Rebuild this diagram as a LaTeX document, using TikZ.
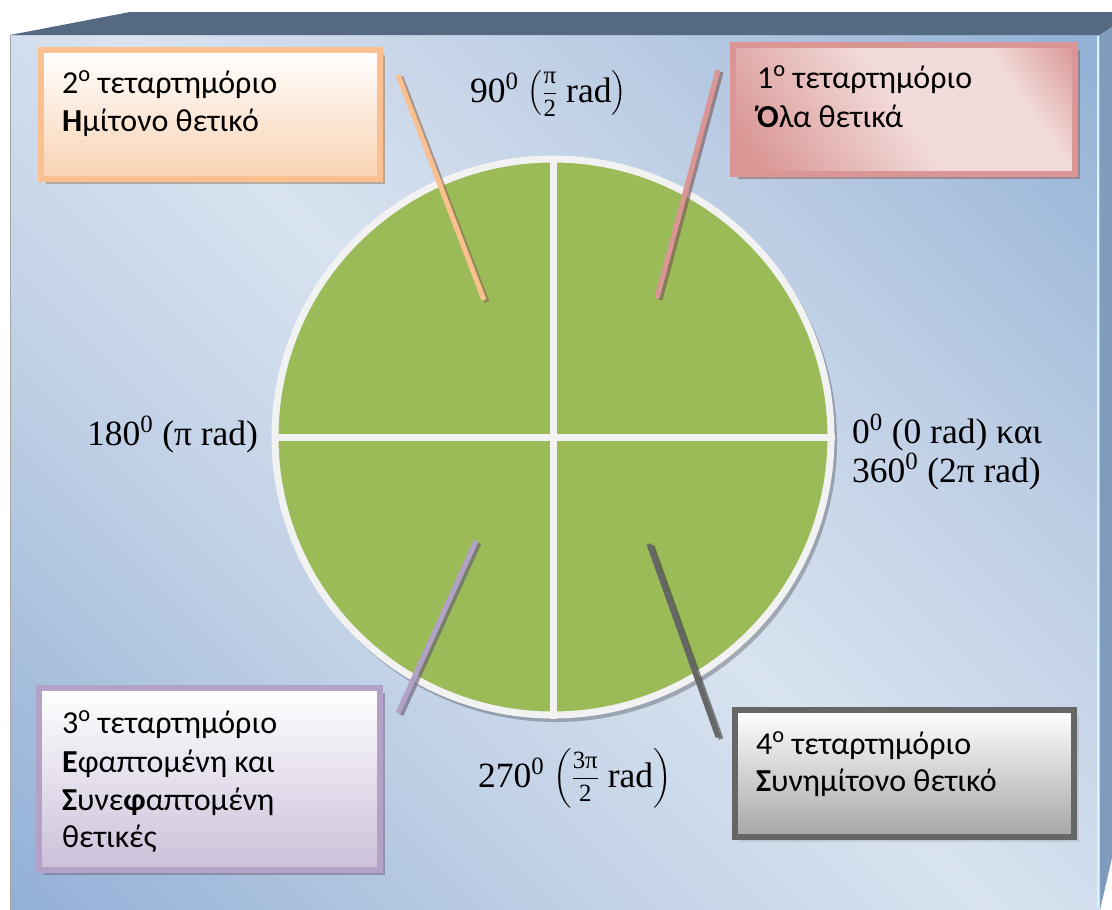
\documentclass[tikz,border=0pt]{standalone}
\usepackage{fix-cm}
\usepackage{amsmath}
\usepackage{fontspec}
\setmainfont{Carlito}
\newfontfamily\labfont{Liberation Serif}
\usetikzlibrary{shadows}
\definecolor{bgdark}{HTML}{93B1D6}
\definecolor{bgmid}{HTML}{BCCDE4}
\definecolor{bglight}{HTML}{D9E3F0}
\definecolor{topface}{HTML}{566982}
\definecolor{sideface}{HTML}{7F9CBD}
\definecolor{quad}{HTML}{9BBB59}
\definecolor{sep}{HTML}{F2F2F2}
\definecolor{orangeB}{HTML}{FAC090}
\definecolor{orangeF}{HTML}{F9D2B2}
\definecolor{pinkB}{HTML}{D99694}
\definecolor{pinkF}{HTML}{F2DCDB}
\definecolor{purpleB}{HTML}{B3A2C7}
\definecolor{purpleF}{HTML}{CCC0DA}
\definecolor{grayB}{HTML}{666666}
\definecolor{grayF}{HTML}{A6A6A6}
\definecolor{grayS}{HTML}{B4B8C0}
\pgfdeclarehorizontalshading{bgshade}{100bp}{color(0bp)=(bgdark); color(15bp)=(bgdark); color(33bp)=(bgmid); color(50bp)=(bglight); color(67bp)=(bgmid); color(85bp)=(bgdark); color(100bp)=(bgdark)}
\pgfdeclarehorizontalshading{pinkshade}{100bp}{color(0bp)=(pinkB); color(20bp)=(pinkB); color(50bp)=(pinkF); color(70bp)=(pinkF); color(85bp)=(pinkB); color(100bp)=(pinkB)}
\newcommand{\myfrac}[2]{\frac{\text{#1}\rule[-8pt]{0pt}{8pt}}{\rule{0pt}{22pt}\text{#2}}}
\begin{document}
\begin{tikzpicture}[x=1pt,y=-1pt,
  boxbase/.style={rectangle, line width=6pt, inner sep=0pt,
    drop shadow={shadow xshift=5pt, shadow yshift=-5pt, opacity=.55, fill=#1}},
  boxtext/.style={anchor=base west, inner sep=0pt, font=\fontsize{32}{38}\selectfont},
  lab/.style={anchor=base west, inner sep=0pt, font=\labfont\fontsize{35.5}{40}\selectfont},
  conn/.style={line width=5pt, draw=#1},
  connshadow/.style={line width=5pt, draw=#1!55!black, opacity=.6, transform canvas={shift={(3pt,-2pt)}}},
  sepline/.style={draw=sep, line width=7pt}
]
\useasboundingbox (0,0) rectangle (1112,910);
\fill[white] (0,0) rectangle (1112,910);
% 3D frame
\shade[shading=bgshade, shading angle=45] (10,35) rectangle (1100,910);
\draw[gray!70, line width=1pt] (10,35) -- (10,910);
\fill[topface] (10,35) -- (130,12) -- (1112,12) -- (1112,27) -- (1100,35) -- cycle;
\fill[sideface] (1100,35) -- (1112,27) -- (1112,858) -- (1100,910) -- cycle;
\draw[white!85!cyan, line width=1.5pt] (1098,36) -- (1098,908);
% circle
\fill[black, opacity=.25] (556,441) circle (281);
\node[circle, minimum size=556pt, inner sep=0pt, fill=quad, draw=sep, line width=7pt] (disc) at (553,437) {};
\draw[sepline] (disc.north) -- (disc.south);
\draw[sepline] (disc.west) -- (disc.east);
% connector ends
\coordinate (c2a) at (398,75);  \coordinate (c2b) at (484,300);
\coordinate (c1a) at (718,70);  \coordinate (c1b) at (657,298);
\coordinate (c3a) at (476,541); \coordinate (c3b) at (398,713);
\coordinate (c4a) at (649,544); \coordinate (c4b) at (718,737);
\draw[connshadow=orangeB] (c2a) -- (c2b);
\draw[conn=orangeB] (c2a) -- (c2b);
\draw[connshadow=pinkB] (c1a) -- (c1b);
\draw[conn=pinkB] (c1a) -- (c1b);
\draw[connshadow=purpleB] (c3a) -- (c3b);
\draw[conn=purpleB] (c3a) -- (c3b);
\draw[connshadow=grayB] (c4a) -- (c4b);
\draw[conn=grayB] (c4a) -- (c4b);
% boxes
\node[boxbase=orangeB!65!black, draw=orangeB, top color=white, bottom color=orangeF,
  minimum width=339pt, minimum height=129pt] (q2box) at (210.5,114.5) {};
\node[boxbase=pinkB!65!black, draw=pinkB, shading=pinkshade, shading angle=35,
  minimum width=342pt, minimum height=129pt] (q1box) at (904,109.5) {};
\node[boxbase=purpleB!65!black, draw=purpleB, top color=white, bottom color=purpleF,
  minimum width=341pt, minimum height=182pt] (q3box) at (209.5,779) {};
\node[boxbase=grayS, draw=grayB, top color=white, bottom color=grayF,
  minimum width=339pt, minimum height=127pt] (q4box) at (904.5,773.5) {};
% box texts
\node[boxtext] (q2t1) at (62,93) {2\textsuperscript{o} τεταρτημόριο};
\node[boxtext] (q2t2) at (62,131) {\textbf{Η}μίτονο θετικό};
\node[boxtext] (q1t1) at (757,88) {1\textsuperscript{o} τεταρτημόριο};
\node[boxtext] (q1t2) at (757,127) {\textbf{Ό}λα θετικά};
\node[boxtext] (q3t1) at (62,733) {3\textsuperscript{o} τεταρτημόριο};
\node[boxtext] (q3t2) at (62,772) {\textbf{Ε}φαπτομένη και};
\node[boxtext] (q3t3) at (62,810) {\textbf{Σ}υνε\textbf{φ}απτομένη};
\node[boxtext] (q3t4) at (62,847) {θετικές};
\node[boxtext] (q4t1) at (756,754) {4\textsuperscript{o} τεταρτημόριο};
\node[boxtext] (q4t2) at (756,791) {\textbf{Σ}υνημίτονο θετικό};
% angle labels
\node[lab] (l90) at (470,102) {90\textsuperscript{0} $\left(\myfrac{π}{2}\ \text{rad}\right)$};
\node[lab] (l180) at (87,445) {180\textsuperscript{0} (π rad)};
\node[lab] (l0) at (852,443) {0\textsuperscript{0} (0 rad) και};
\node[lab] (l360) at (852,482) {360\textsuperscript{0} (2π rad)};
\node[lab] (l270) at (478,787) {270\textsuperscript{0} $\left(\myfrac{3π}{2}\ \text{rad}\right)$};
\end{tikzpicture}
\end{document}
